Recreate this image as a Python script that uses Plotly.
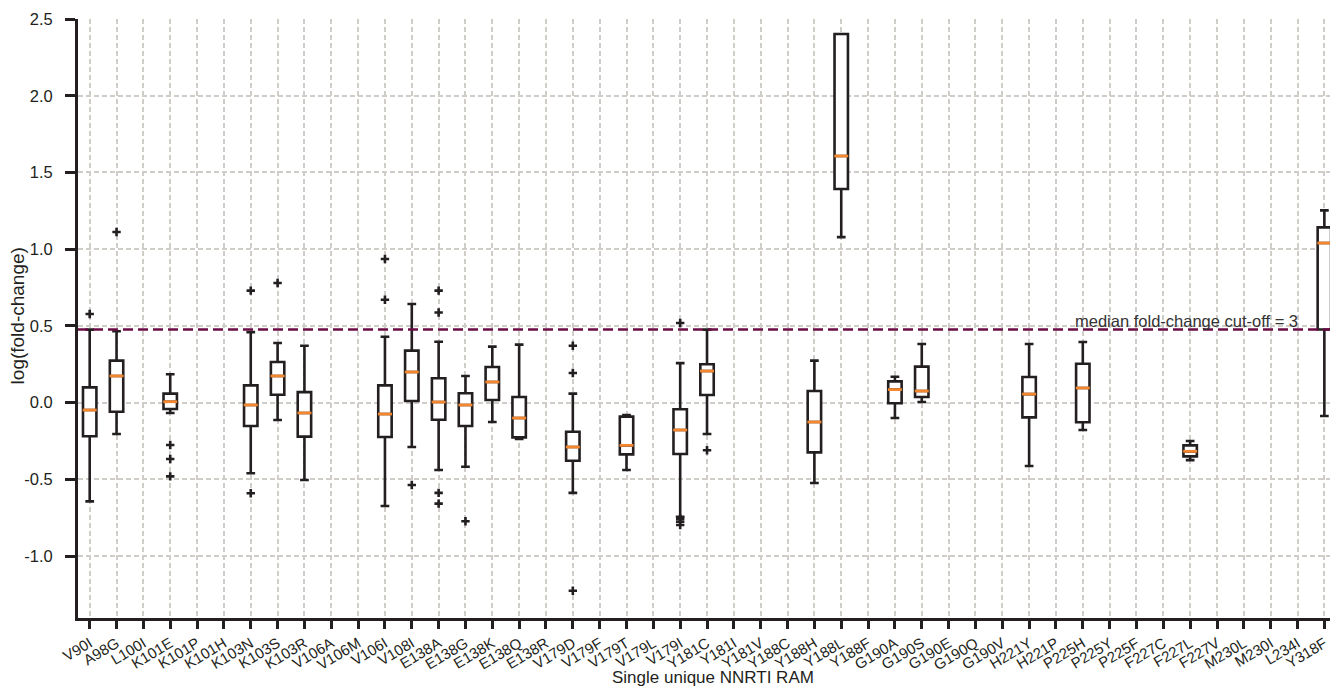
import math
import plotly.graph_objects as go

categories = ["V90I", "A98G", "L100I", "K101E", "K101P", "K101H", "K103N", "K103S", "K103R",
              "V106A", "V106M", "V106I", "V108I", "E138A", "E138G", "E138K", "E138Q", "E138R",
              "V179D", "V179F", "V179T", "V179L", "V179I", "Y181C", "Y181I", "Y181V", "Y188C",
              "Y188H", "Y188L", "Y188F", "G190A", "G190S", "G190E", "G190Q", "G190V", "H221Y",
              "H221P", "P225H", "P225Y", "P225F", "F227C", "F227L", "F227V", "M230L", "M230I",
              "L234I", "Y318F"]

# box statistics for the mutations that have data
box_cats   = ["V90I", "A98G", "K101E", "K103N", "K103S", "K103R", "V106I", "V108I", "E138A",
              "E138G", "E138K", "E138Q", "V179D", "V179T", "V179I", "Y181C", "Y188H", "Y188L",
              "G190A", "G190S", "H221Y", "P225H", "F227L", "Y318F"]
lower_wh   = [-0.643, -0.204, -0.067, -0.460, -0.113, -0.504, -0.673, -0.289, -0.439,
              -0.417, -0.126, -0.237, -0.588, -0.439, -0.743, -0.204, -0.523, 1.079,
              -0.100, 0.004, -0.413, -0.178, -0.374, -0.087]
q1_vals    = [-0.219, -0.059, -0.041, -0.152, 0.052, -0.221, -0.224, 0.011, -0.111,
              -0.152, 0.017, -0.226, -0.378, -0.337, -0.334, 0.050, -0.324, 1.392,
              -0.004, 0.037, -0.096, -0.128, -0.350, 0.477]
median_vals = [-0.048, 0.174, 0.006, -0.015, 0.174, -0.067, -0.074, 0.200, 0.004,
               -0.015, 0.135, -0.100, -0.289, -0.278, -0.178, 0.206, -0.126, 1.607,
               0.085, 0.076, 0.056, 0.096, -0.317, 1.040]
q3_vals    = [0.100, 0.274, 0.059, 0.113, 0.265, 0.069, 0.113, 0.339, 0.159,
              0.061, 0.232, 0.037, -0.189, -0.091, -0.043, 0.250, 0.076, 2.402,
              0.139, 0.235, 0.167, 0.254, -0.278, 1.142]
upper_wh   = [0.476, 0.465, 0.185, 0.460, 0.389, 0.371, 0.430, 0.643, 0.397,
              0.174, 0.365, 0.378, 0.059, -0.080, 0.258, 0.476, 0.274, 2.402,
              0.169, 0.382, 0.382, 0.395, -0.250, 1.253]

# outliers (fliers)
outlier_cats = ["V90I", "A98G", "K101E", "K101E", "K101E", "K103N", "K103N", "K103S",
                "V106I", "V106I", "V108I", "E138A", "E138A", "E138A", "E138A", "E138G",
                "V179D", "V179D", "V179D", "V179I", "V179I", "V179I", "V179I", "Y181C"]
outlier_vals = [0.578, 1.112, -0.276, -0.367, -0.480, 0.730, -0.590, 0.780,
                0.936, 0.671, -0.536, 0.730, 0.588, -0.588, -0.658, -0.773,
                0.371, 0.193, -1.225, 0.519, -0.756, -0.775, -0.797, -0.310]

cutoff_fold = 3
y_ticks = [2.5, 2.0, 1.5, 1.0, 0.5, 0.0, -0.5, -1.0]

DARK = "#231f20"
ORANGE = "#f4862e"
GRID = "#d0ccc8"
FONT = "Liberation Sans, Arial, sans-serif"

fig = go.Figure()
fig.add_trace(go.Box(
    x=box_cats, q1=q1_vals, median=median_vals, q3=q3_vals,
    lowerfence=lower_wh, upperfence=upper_wh,
    width=0.5, whiskerwidth=0.65,
    fillcolor="white", line=dict(color=DARK, width=2.6),
    boxpoints=False, showlegend=False, hoverinfo="skip",
))
fig.add_trace(go.Scatter(
    x=box_cats, y=median_vals, mode="markers", showlegend=False, hoverinfo="skip",
    marker=dict(symbol="line-ew", size=10, color=ORANGE,
                line=dict(color=ORANGE, width=2.8)),
))
fig.add_trace(go.Scatter(
    x=outlier_cats, y=outlier_vals, mode="markers", showlegend=False, hoverinfo="skip",
    marker=dict(symbol="cross-thin", size=6, color=DARK,
                line=dict(color=DARK, width=2.6)),
))

cut_y = math.log10(cutoff_fold)
fig.add_shape(type="line", xref="paper", x0=0, x1=1, yref="y", y0=cut_y, y1=cut_y,
              line=dict(color="#6b0c45", width=2.6, dash="10px,5px"), layer="above")
fig.add_annotation(xref="paper", x=0.976, xanchor="right", yref="y", y=cut_y,
                   yanchor="bottom", yshift=-3, showarrow=False,
                   text=f"median fold-change cut-off = {cutoff_fold}",
                   font=dict(family=FONT, size=16.5, color="#333333"))

# axis titles as annotations (exact placement)
fig.add_annotation(xref="paper", x=0.507, yref="paper", y=-0.1, xanchor="center",
                   yanchor="middle", showarrow=False, text="Single unique NNRTI RAM",
                   font=dict(family=FONT, size=17, color=DARK))
fig.add_annotation(xref="paper", x=-0.048, yref="paper", y=0.505, xanchor="center",
                   yanchor="middle", showarrow=False, text="log(fold-change)", textangle=-90,
                   font=dict(family=FONT, size=19, color=DARK))

fig.update_layout(
    width=1330, height=690,
    margin=dict(l=78, r=0, t=19, b=72),
    plot_bgcolor="white", paper_bgcolor="white",
    font=dict(family=FONT, size=15, color=DARK),
    xaxis=dict(
        type="category", categoryorder="array", categoryarray=categories,
        tickmode="array", tickvals=categories, ticktext=categories,
        range=[-0.436, 46.21], tickangle=-31, automargin=False,
        showgrid=True, gridcolor=GRID, gridwidth=1.5, griddash="5px,3px",
        showline=True, linecolor=DARK, linewidth=3,
        ticks="outside", ticklen=8, tickwidth=3, tickcolor=DARK,
        tickfont=dict(size=15, color=DARK), ticklabelstandoff=0,
        zeroline=False,
    ),
    yaxis=dict(
        range=[-1.403, 2.5], automargin=False,
        tickmode="array", tickvals=y_ticks,
        ticktext=[f"{v:.1f}" for v in y_ticks],
        showgrid=True, gridcolor=GRID, gridwidth=1.5, griddash="5px,3px",
        showline=True, linecolor=DARK, linewidth=3,
        ticks="outside", ticklen=10, tickwidth=3, tickcolor=DARK,
        tickfont=dict(size=16.5, color=DARK), ticklabelstandoff=9,
        zeroline=False,
    ),
)

fig.write_html("out.html", config={"displayModeBar": False},
               post_script="document.body.style.margin='0px';")
